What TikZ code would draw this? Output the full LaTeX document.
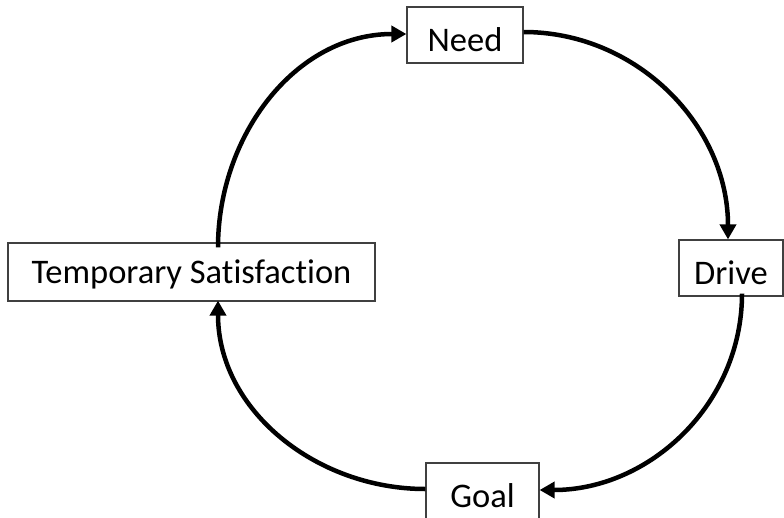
\documentclass[tikz,border=0pt]{standalone}
\usepackage{fontspec}
\setmainfont{Carlito}[Ligatures=NoCommon]
\usetikzlibrary{arrows.meta}
\begin{document}
\begin{tikzpicture}[x=1pt,y=-1pt,
  box/.style={draw=black!75, line width=1.2pt, fill=white, font=\fontsize{34.5}{37}\selectfont,
    inner sep=0pt, text height=32pt, text depth=0pt},
  flow/.style={line width=4.5pt, -{Triangle[length=15pt,width=16pt]}}]
\clip (0,0) rectangle (784,517);
\useasboundingbox (0,0) rectangle (784,517);
\node[box, minimum width=116pt, minimum height=56pt] (need) at (465,35) {Need};
\node[box, minimum width=104pt, minimum height=56pt] (drive) at (731,268) {Drive};
\node[box, minimum width=113pt, minimum height=56pt] (goal) at (482.5,491) {Goal};
\node[box, minimum width=367pt, minimum height=58pt, text depth=10pt] (ts) at (191.5,272) {Temporary Satisfaction};
\draw[flow] ([xshift=26.5pt,yshift=-5pt]ts.north) to[out=90,in=180] ([yshift=1pt]need.west);
\draw[flow] ([yshift=3pt]need.east) to[out=0,in=90] ([xshift=-3pt]drive.north);
\draw[flow] ([xshift=11pt,yshift=3pt]drive.south) to[out=-90,in=0] ([yshift=1pt]goal.east);
\draw[flow] ([yshift=2pt]goal.west) to[out=180,in=-90] ([xshift=26.5pt,yshift=1pt]ts.south);
\end{tikzpicture}
\end{document}
